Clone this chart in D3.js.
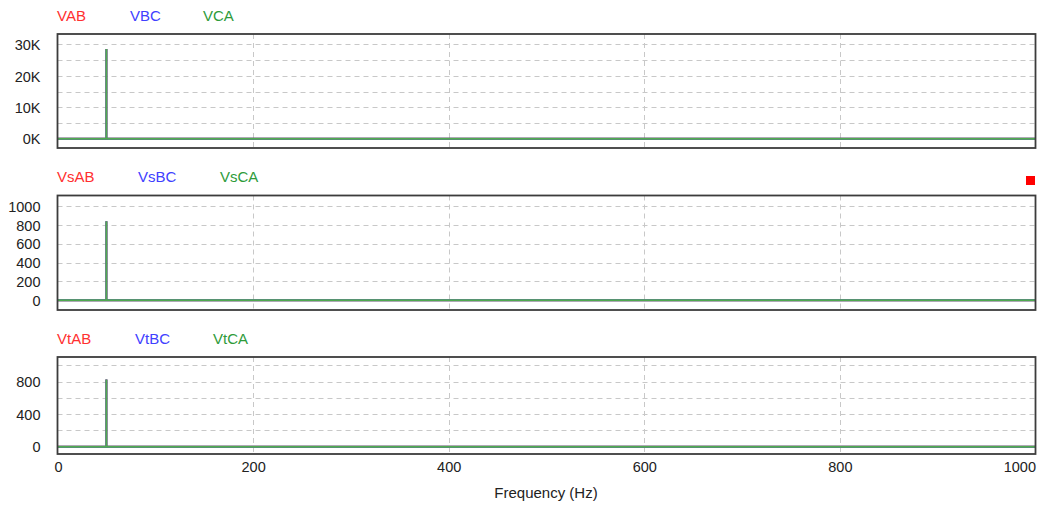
<!DOCTYPE html>
<html>
<head>
<meta charset="utf-8">
<script src="https://cdn.jsdelivr.net/npm/d3@7"></script>
<style>
  html, body { margin: 0; padding: 0; background: #fff; }
  svg { display: block; font-family: "Liberation Sans", Arial, sans-serif; }
</style>
</head>
<body>
<svg id="chart" width="1041" height="506"></svg>
<script>
// Spectrum points (Hz): flat floor with a single line at the 50 Hz fundamental
const freqHz = [0, 50, 50, 50, 1000];

// Line voltages
const vabMag = [0, 0, 28600, 0, 0];
const vbcMag = [0, 0, 28600, 0, 0];
const vcaMag = [0, 0, 28600, 0, 0];

// Source-side voltages
const vsabMag = [0, 0, 840, 0, 0];
const vsbcMag = [0, 0, 840, 0, 0];
const vscaMag = [0, 0, 840, 0, 0];

// Terminal voltages
const vtabMag = [0, 0, 825, 0, 0];
const vtbcMag = [0, 0, 825, 0, 0];
const vtcaMag = [0, 0, 825, 0, 0];

const names1 = ["VAB", "VBC", "VCA"];
const names2 = ["VsAB", "VsBC", "VsCA"];
const names3 = ["VtAB", "VtBC", "VtCA"];

const ticks1 = [0, 10000, 20000, 30000];
const tickLabels1 = ["0K", "10K", "20K", "30K"];
const grid1 = [0, 5000, 10000, 15000, 20000, 25000, 30000];
const ticks2 = [0, 200, 400, 600, 800, 1000];
const grid2 = [0, 200, 400, 600, 800, 1000];
const ticks3 = [0, 400, 800];
const grid3 = [0, 200, 400, 600, 800, 1000];

const freqTicks = [0, 200, 400, 600, 800, 1000];
const xTitle = "Frequency (Hz)";

const seriesColors = ["#ff3030", "#4040ff", "#50aa50"];
const labelColors = ["#ff3030", "#4040ff", "#2e9b3a"];

const svg = d3.select("#chart");
const left = 57.5, right = 1035.5;
const x = d3.scaleLinear().domain([0, 1000]).range([left, right]);

const panels = [
  { top: 34, bottom: 148, domain: [-2920, 33330], ticks: ticks1, labels: tickLabels1, grid: grid1,
    names: names1, nameX: [57, 130, 203], nameY: 20.5, series: [vabMag, vbcMag, vcaMag] },
  { top: 195.5, bottom: 310, domain: [-103, 1114], ticks: ticks2, labels: ticks2.map(String), grid: grid2,
    names: names2, nameX: [57, 138, 220], nameY: 182, series: [vsabMag, vsbcMag, vscaMag] },
  { top: 357, bottom: 454, domain: [-89, 1101], ticks: ticks3, labels: ticks3.map(String), grid: grid3,
    names: names3, nameX: [57, 135, 213], nameY: 344, series: [vtabMag, vtbcMag, vtcaMag] }
];

panels.forEach((p, pi) => {
  const y = d3.scaleLinear().domain(p.domain).range([p.bottom, p.top]);
  const g = svg.append("g");
  const clipId = "clip" + pi;
  svg.append("clipPath").attr("id", clipId)
    .append("rect").attr("x", left).attr("y", p.top)
    .attr("width", right - left).attr("height", p.bottom - p.top);

  // dashed grid
  g.selectAll("line.hg").data(p.grid).join("line")
    .attr("x1", left).attr("x2", right)
    .attr("y1", d => Math.round(y(d)) + 0.5).attr("y2", d => Math.round(y(d)) + 0.5)
    .attr("stroke", "#c8c8c8").attr("stroke-width", 1).attr("stroke-dasharray", "5,4");
  g.selectAll("line.vg").data(freqTicks.filter(d => d > 0 && d < 1000)).join("line")
    .attr("x1", d => Math.round(x(d)) + 0.5).attr("x2", d => Math.round(x(d)) + 0.5)
    .attr("y1", p.top).attr("y2", p.bottom)
    .attr("stroke", "#c8c8c8").attr("stroke-width", 1).attr("stroke-dasharray", "5,4");

  // spectrum lines (green drawn last, on top)
  const line = d3.line().x((d, i) => x(freqHz[i])).y(d => y(d));
  p.series.forEach((s, si) => {
    g.append("path").datum(s)
      .attr("clip-path", `url(#${clipId})`)
      .attr("d", line)
      .attr("fill", "none")
      .attr("stroke", seriesColors[si])
      .attr("stroke-width", 2)
      .attr("stroke-linejoin", "bevel");
  });

  // frame
  g.append("rect").attr("x", left).attr("y", p.top)
    .attr("width", right - left).attr("height", p.bottom - p.top)
    .attr("fill", "none").attr("stroke", "#3c3c3c").attr("stroke-width", 1.8);

  // y axis labels
  const axis = d3.axisLeft(y).tickValues(p.ticks)
    .tickFormat((d, i) => p.labels[i]).tickSize(0).tickPadding(0);
  const ag = svg.append("g").attr("transform", "translate(40.5,0.5)").call(axis);
  ag.select(".domain").remove();
  ag.selectAll("text").attr("font-size", 14.5).attr("fill", "#222")
    .attr("font-family", "'Liberation Sans', Arial, sans-serif");

  // series names
  svg.selectAll(null).data(p.names).join("text")
    .attr("x", (d, i) => p.nameX[i]).attr("y", p.nameY)
    .attr("fill", (d, i) => labelColors[i])
    .attr("font-size", 15)
    .text(d => d);
});

// x axis labels under the bottom panel
const xa = svg.append("g").attr("transform", "translate(0,462)")
  .call(d3.axisBottom(x).tickValues(freqTicks).tickSize(0).tickPadding(0).tickFormat(d3.format("d")));
xa.select(".domain").remove();
xa.selectAll("text").attr("font-size", 14.5).attr("fill", "#222")
  .attr("font-family", "'Liberation Sans', Arial, sans-serif")
  .attr("text-anchor", d => d === 1000 ? "end" : "middle")
  .attr("dx", d => d === 0 ? 0.5 : 0);

svg.append("text").attr("x", 546).attr("y", 498)
  .attr("text-anchor", "middle").attr("font-size", 15).attr("fill", "#222")
  .text(xTitle);

// marker
svg.append("rect").attr("x", 1026).attr("y", 176).attr("width", 9).attr("height", 9)
  .attr("fill", "#ff0000");
</script>
</body>
</html>
